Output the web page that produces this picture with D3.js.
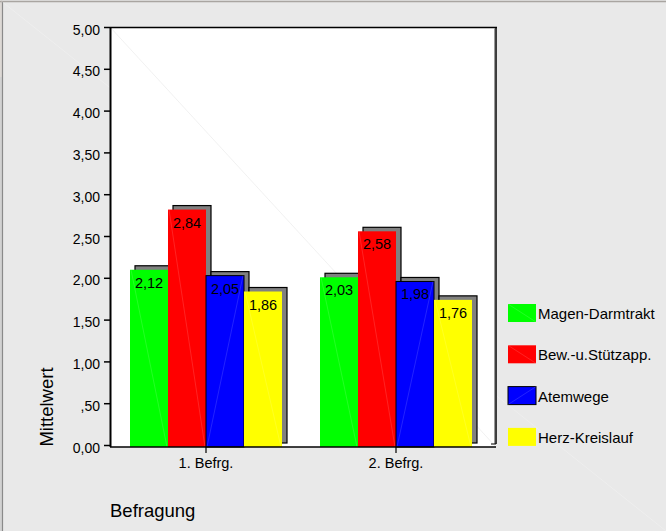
<!DOCTYPE html>
<html>
<head>
<meta charset="utf-8">
<script src="https://cdn.jsdelivr.net/npm/d3@7/dist/d3.min.js"></script>
<style>
  html, body { margin: 0; padding: 0; background: #e9e9e9; }
  svg { display: block; }
  text { font-family: "Liberation Sans", Arial, sans-serif; fill: #000; }
</style>
</head>
<body>
<svg id="chart" width="666" height="531"></svg>
<script>
// Mean scores per survey wave
const categories = ["1. Befrg.", "2. Befrg."];
const seriesNames = ["Magen-Darmtrakt", "Bew.-u.Stützapp.", "Atemwege", "Herz-Kreislauf"];
const seriesColors = ["#00ff00", "#ff0000", "#0000ff", "#ffff00"];
const magenDarm = [2.12, 2.03];
const bewStuetz = [2.84, 2.58];
const atemwege = [2.05, 1.98];
const herzKreis = [1.86, 1.76];
const yTicks = [0, 0.5, 1, 1.5, 2, 2.5, 3, 3.5, 4, 4.5, 5];

const seriesValues = [magenDarm, bewStuetz, atemwege, herzKreis];

const W = 666, H = 531;
const svg = d3.select("#chart");

// comma decimal format, ",50" style below one
const f2 = d3.format(".2f");
const deNum = v => f2(v).replace(".", ",");
const tickFmt = v => v === 0 ? "0,00" : (v < 1 ? deNum(v).slice(1) : deNum(v));

// window frame
svg.append("rect").attr("x", 0).attr("y", 0).attr("width", W).attr("height", H).attr("fill", "#e9e9e9");
svg.append("rect").attr("x", 0).attr("y", 0).attr("width", 2).attr("height", 77).attr("fill", "#ddd9d5");
svg.append("rect").attr("x", 0).attr("y", 77).attr("width", 2).attr("height", H - 77).attr("fill", "#d2d2d2");
svg.append("line").attr("x1", 0).attr("x2", W).attr("y1", 1.5).attr("y2", 1.5).attr("stroke", "#a9a5a1").attr("stroke-width", 1.5);
svg.append("line").attr("x1", 2.5).attr("x2", 2.5).attr("y1", 2).attr("y2", H).attr("stroke", "#8a8a8a").attr("stroke-width", 1.2);
// faint shading diagonal across the frame
svg.append("line").attr("x1", 0).attr("y1", 0).attr("x2", W).attr("y2", H)
  .attr("stroke", "#ffffff").attr("stroke-opacity", 0.3).attr("stroke-width", 0.8);

// scales
const plot = { left: 110, right: 496, top: 27, bottom: 447 };
const y = d3.scaleLinear().domain([0, 5]).range([445, 27]);
const x0 = d3.scaleBand().domain(categories).range([111, 491]).paddingInner(0).paddingOuter(0);
const x1 = d3.scaleBand().domain(seriesNames).range([0, x0.bandwidth()]).paddingInner(0).paddingOuter(0.5);

const depthX = 5, depthY = 4;

// plot area
svg.append("rect")
  .attr("x", plot.left).attr("y", plot.top)
  .attr("width", plot.right - plot.left).attr("height", plot.bottom - plot.top)
  .attr("fill", "#ffffff");
svg.append("line").attr("x1", plot.left).attr("y1", plot.top).attr("x2", plot.right).attr("y2", plot.bottom)
  .attr("stroke", "#eeeeee").attr("stroke-width", 0.8);
svg.append("line").attr("x1", plot.left).attr("x2", plot.right + 1).attr("y1", plot.top + 0.5).attr("y2", plot.top + 0.5)
  .attr("stroke", "#000").attr("stroke-width", 1.5);
svg.append("line").attr("x1", plot.right - 1.5).attr("x2", plot.right - 1.5).attr("y1", plot.top + 1).attr("y2", plot.bottom - 3)
  .attr("stroke", "#9a9a9a").attr("stroke-width", 1);
svg.append("line").attr("x1", plot.right).attr("x2", plot.right).attr("y1", plot.top).attr("y2", plot.bottom - 3)
  .attr("stroke", "#000").attr("stroke-width", 1.5);
svg.append("line").attr("x1", x0.range()[1]).attr("x2", plot.right).attr("y1", plot.bottom - 3).attr("y2", plot.bottom - 3)
  .attr("stroke", "#000").attr("stroke-width", 1);

// bars with offset back faces
const bars = [];
categories.forEach((c, ci) => {
  seriesNames.forEach((s, si) => {
    bars.push({ cat: c, series: s, si, value: seriesValues[si][ci] });
  });
});

const g = svg.append("g");
bars.forEach(b => {
  const bx = x0(b.cat) + x1(b.series);
  const bw = x1.bandwidth();
  const yTop = y(b.value);
  const base = y(0);
  // back face
  g.append("rect")
    .attr("x", bx + depthX).attr("y", yTop - depthY / 2)
    .attr("width", bw).attr("height", (base - depthY / 2) - (yTop - depthY / 2))
    .attr("fill", "#808080").attr("stroke", "#000").attr("stroke-width", 1.2);
  // front face
  const fy = yTop + depthY / 2, fb = base + depthY / 2;
  g.append("rect")
    .attr("x", bx).attr("y", fy)
    .attr("width", bw).attr("height", fb - fy)
    .attr("fill", seriesColors[b.si])
    .attr("stroke", b.si === 2 ? "#000" : "none").attr("stroke-width", 1);
  // faint shading diagonal
  const rising = b.si === 2;
  g.append("line")
    .attr("x1", bx + 1).attr("y1", rising ? fb : fy)
    .attr("x2", bx + bw - 1).attr("y2", rising ? fy : fb)
    .attr("stroke", "#ffffff").attr("stroke-opacity", 0.2).attr("stroke-width", 0.7);
  // value label
  g.append("text")
    .attr("x", bx + bw / 2).attr("y", fy + 18)
    .attr("text-anchor", "middle").attr("font-size", "14.5px")
    .text(deNum(b.value));
});

// y axis
const yAxis = d3.axisLeft(y).tickValues(yTicks).tickFormat(tickFmt).tickSize(6).tickSizeOuter(0).tickPadding(4);
const ya = svg.append("g").attr("transform", `translate(${plot.left},0)`).call(yAxis);
ya.select(".domain").remove();
ya.selectAll("line").attr("stroke", "#000").attr("stroke-width", 1.5);
ya.selectAll("text").attr("font-size", "14px").attr("dy", "0.5em").attr("font-family", "Liberation Sans, Arial, sans-serif");
svg.append("line").attr("x1", plot.left + 0.5).attr("x2", plot.left + 0.5).attr("y1", plot.top).attr("y2", plot.bottom)
  .attr("stroke", "#000").attr("stroke-width", 2);

// x axis
const xAxis = d3.axisBottom(x0).tickSize(6).tickSizeOuter(0).tickPadding(5);
const xa = svg.append("g").attr("transform", `translate(0,${plot.bottom})`).call(xAxis);
xa.select(".domain").remove();
xa.selectAll("line").attr("stroke", "#000").attr("stroke-width", 1.2);
xa.selectAll("text").attr("font-size", "14.5px").attr("font-family", "Liberation Sans, Arial, sans-serif");
svg.append("line").attr("x1", plot.left).attr("x2", plot.right).attr("y1", plot.bottom).attr("y2", plot.bottom)
  .attr("stroke", "#000").attr("stroke-width", 1.5);

// axis titles
svg.append("text")
  .attr("transform", "translate(53,407) rotate(-90)")
  .attr("text-anchor", "middle").attr("font-size", "18.5px")
  .text("Mittelwert");
svg.append("text")
  .attr("x", 110).attr("y", 517)
  .attr("font-size", "18.5px")
  .text("Befragung");

// legend
const legendTop = 304, legendStep = 41.3;
const lg = svg.append("g");
seriesNames.forEach((s, i) => {
  const ly = legendTop + i * legendStep;
  lg.append("rect")
    .attr("x", 508).attr("y", ly).attr("width", 28).attr("height", 18)
    .attr("fill", seriesColors[i])
    .attr("stroke", i === 2 ? "#000" : "none").attr("stroke-width", 1);
  if (i < 3) {
    lg.append("line")
      .attr("x1", 508).attr("y1", i === 2 ? ly + 18 : ly)
      .attr("x2", 536).attr("y2", i === 2 ? ly : ly + 18)
      .attr("stroke", "#ffffff").attr("stroke-opacity", 0.2).attr("stroke-width", 0.7);
  }
  lg.append("text")
    .attr("x", 538).attr("y", ly + 15)
    .attr("font-size", "15px")
    .text(s);
});
</script>
</body>
</html>
